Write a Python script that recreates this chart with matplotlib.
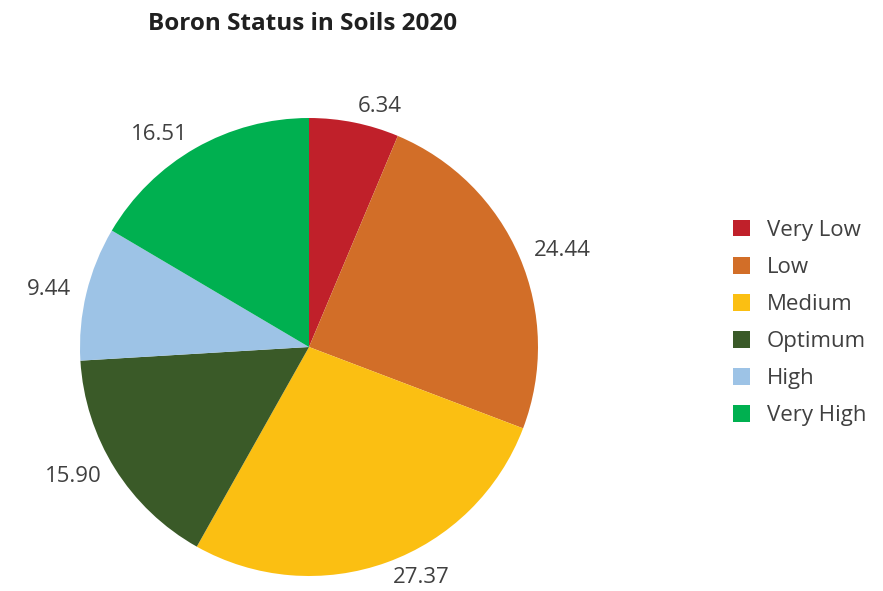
import matplotlib.pyplot as plt
from matplotlib.patches import Patch

categories = ["Very Low", "Low", "Medium", "Optimum", "High", "Very High"]
values = [6.34, 24.44, 27.37, 15.90, 9.44, 16.51]
colors = ["#C0202A", "#D26E28", "#FBBF12", "#3A5A28", "#9DC3E6", "#00B050"]

plt.rcParams['font.family'] = ['Open Sans', 'DejaVu Sans']

fig = plt.figure(figsize=(8.83, 5.91), dpi=100)
ax = fig.add_axes([(309 - 229) / 883, (591 - 347 - 229) / 591, 458 / 883, 458 / 591])

wedges, texts = ax.pie(values, colors=colors, startangle=90, counterclock=False,
                       labels=["%.2f" % v for v in values], labeldistance=1.07,
                       wedgeprops=dict(linewidth=0))
for t in texts:
    t.set_fontsize(16)
    t.set_color("#404040")
ax.set_xlim(-1, 1)
ax.set_ylim(-1, 1)
ax.set_aspect("equal")

fig.text(303 / 883, 1 - 24 / 591, "Boron Status in Soils 2020", ha="center", va="center",
         fontsize=17.5, fontweight="bold", color="#202020")

handles = [Patch(facecolor=c, label=l) for c, l in zip(colors, categories)]
fig.legend(handles=handles, loc="center left", bbox_to_anchor=(713 / 883, 1 - 323 / 591),
           frameon=False, fontsize=16, handlelength=0.78, handleheight=0.78,
           handletextpad=0.75, labelspacing=0.72, labelcolor="#404040")

fig.savefig("out.png", dpi=100)
